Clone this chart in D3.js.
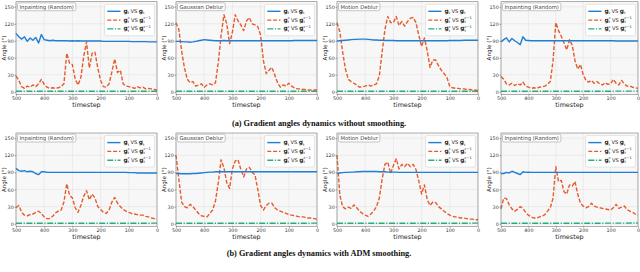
<!DOCTYPE html>
<html>
<head>
<meta charset="utf-8">
<script src="https://cdn.jsdelivr.net/npm/d3@7"></script>
<style>
  body { margin: 0; background: #fff; }
  svg { display: block; }
</style>
</head>
<body>
<div id="fig"></div>
<script>
// x values shared by the blue and orange series
const timesteps = [500, 490, 480, 470, 460, 450, 440, 430, 420, 410,
                   400, 390, 380, 370, 360, 350, 340, 330, 320, 310,
                   300, 290, 280, 270, 260, 250, 240, 230, 220, 210,
                   200, 190, 180, 170, 160, 150, 140, 130, 120, 110,
                   100, 90, 80, 70, 60, 50, 40, 30, 20, 10, 0];
const greenSteps = [500, 400, 300, 200, 100, 0];

const xTicks = [500, 400, 300, 200, 100, 0];
const yTicks = [0, 30, 60, 90, 120, 150];
const panelTitles = ["Inpainting (Random)", "Gaussian Deblur", "Motion Deblur", "Inpainting (Random)"];
const captions = ["(a) Gradient angles dynamics without smoothing.",
                  "(b) Gradient angles dynamics with ADM smoothing."];
const footText = "Figure 3: Angular relationships of gradients during the reverse process across different tasks, illustrating the gradient dynamics of each step";

// row (a): without smoothing
const blueA1 = [103,97,93,97,89,95,91,96,86,101, 92,91,90,91,90,90,90,90,90,89.5, 90,89.5,90,89.5,89.5,89.5,89.5,89.5,89.5,89.5, 89.5,89,89,89,89,89,89,89,89,89, 89,88.5,88.5,88.5,88.5,88.5,88.5,88,88,88, 88];
const orangeA1 = [28,20,9,6,10,8,12,9,14,22, 13,8,6,7,6,7,9,14,68,50, 48,22,12,25,62,88,42,68,70,42, 20,9,8,14,35,58,34,38,14,10, 9,8,6,9,7,8,5,6,5,4, 3];
const greenA1 = [1, 0.8, 0.8, 0.8, 0.9, 1];

const blueA2 = [89,89,88.5,88,88,87.5,88,89,90,91, 92,91.5,91,90.5,90,90,90,90.5,90,90, 90,90,90,90,90,90,90,90,90,90, 90,90,90,90,90,90,90,90,90,90, 90,90,90.5,90.5,90.5,90.5,90.5,90.5,90.5,90.5, 90.5];
const orangeA2 = [122,110,72,42,22,16,18,10,12,14, 8,12,14,12,16,52,100,136,120,85, 105,136,125,118,108,125,131,120,118,115, 100,55,32,38,43,30,16,8,12,10, 15,10,7,5,5,4,4,3,3,3, 3];
const greenA2 = [0.8, 0.8, 0.8, 0.8, 0.9, 1];

const blueA3 = [89.5,90,90.5,91,91.5,92,92.5,92.5,93,93, 93,92.5,92,91.5,91.5,91,91,90.5,90.5,90.5, 90.5,90,90,90,90,90,90,90,90,90, 90,90,90,90,90,90,90,90,90,90, 90.5,90.5,90.5,90.5,90.5,91,91,91,91,91, 91];
const orangeA3 = [122,106,70,40,22,18,15,12,8,9, 10,12,10,12,14,28,70,110,133,122, 122,133,117,124,116,124,130,131,122,100, 80,95,72,43,56,56,46,38,32,25, 9,7,6,6,5,5,4,4,3,3, 2];
const greenA3 = [0.8, 0.8, 0.8, 0.8, 0.9, 1];

const blueA4 = [88,92,95,88,94,90,87,83,97,91, 90.5,90,90,90,90,90,90,90,90,90, 90,90,90,90,90,90,90,90,90,90, 90,90,90,90,90,90,90,90,90,90, 90,90,89.5,89.5,89.5,89.5,89.5,89.5,89.5,89.5, 89.5];
const orangeA4 = [27,22,14,12,15,11,14,12,17,10, 8,6,7,6,8,9,10,13,18,55, 122,108,98,86,74,92,82,55,40,48, 30,20,17,20,15,18,14,12,16,13, 14,22,15,12,20,14,10,10,8,7, 6];
const greenA4 = [0.8, 0.8, 0.8, 0.9, 1, 1.2];

// row (b): with ADM smoothing
const blueB1 = [97,93,92,93,91,92,91,88,86,91, 91,90,90,90,90,90,90,90,90,90, 90,90,90,90,90,90,90,90,90,90, 90,90,90,90,90,90,90,90,90,90, 89.5,89.5,89.5,89,89,89,89,89,89,89, 89];
const orangeB1 = [28,32,20,15,14,16,17,20,22,18, 12,9,9,13,19,22,24,38,70,50, 45,28,20,32,48,58,42,52,45,30, 25,20,18,24,38,46,36,30,25,22, 20,18,17,16,15,15,13,12,10,9, 8];
const greenB1 = [0.8, 0.8, 0.8, 0.8, 0.9, 1];

const blueB2 = [88,88,87.5,87.5,87.5,87.5,88,88,88.5,89, 89.5,90,90.5,90.5,91,91,91,91,91,91, 91,91,91,91,91,91,91,91,91,91, 91,91,91,91,91,91,91,91,91,91, 91,91,91,91,91,91,91,91,91,91, 91];
const orangeB2 = [120,78,38,30,28,34,30,24,18,14, 13,12,18,24,40,72,112,98,72,62, 96,110,112,95,82,96,99,90,86,60, 32,24,32,36,36,28,24,22,20,18, 16,15,14,13,12,12,11,10,10,9, 8];
const greenB2 = [0.8, 0.8, 0.8, 0.8, 0.9, 1];

const blueB3 = [88,89,89.5,90,90,90.5,90.5,91,91,91.5, 91.5,91.5,91.5,91.5,91.5,91,91,91,90.5,90.5, 90.5,90.5,90,90,90,90,90,90,90,90, 90,90,90,90,90,90,90,90,90,90, 90,90,90,90,90,90,90,90,90,90, 90];
const orangeB3 = [120,50,30,26,29,27,33,28,22,18, 15,13,17,22,30,45,78,104,108,88, 102,114,96,104,100,106,100,104,95,75, 52,68,42,32,38,37,30,26,22,18, 15,13,12,11,10,10,9,8,8,7, 7];
const greenB3 = [0.8, 0.8, 0.8, 0.8, 0.9, 1];

const blueB4 = [88,88,90,89,92,90,88,86,91,90, 90.5,90,90,90,90,90,90,90,90,90, 90,90,90,90,90,90,90,90,90,90, 90,90,90,90,90,90,90,90,90,90, 90,90,90,90,90,90,90,90,90,90, 90];
const orangeB4 = [26,45,44,33,26,22,25,30,27,20, 15,12,10,10,12,13,16,22,28,45, 100,74,76,56,52,68,66,74,52,36, 31,28,30,36,31,29,28,27,26,25, 24,28,34,27,29,31,25,22,20,17, 15];
const greenB4 = [0.8, 0.8, 0.8, 0.9, 1, 1.2];

const W = 640, H = 272;
const BLUE = "#1f7fd6", ORANGE = "#e55b2b", GREEN = "#26ad7e";
const SANS = "DejaVu Sans, sans-serif";

const svg = d3.select("#fig").append("svg")
    .attr("width", W)
    .attr("height", H)
    .style("font-family", SANS);

// panel frames (left, right) and (top, bottom)
const cols = [[16, 157], [176, 317], [337, 478], [501, 638]];
const rows = [[1.7, 94.3], [133, 226.3]];

const panels = [
    { r: 0, c: 0, blue: blueA1, orange: orangeA1, green: greenA1 },
    { r: 0, c: 1, blue: blueA2, orange: orangeA2, green: greenA2 },
    { r: 0, c: 2, blue: blueA3, orange: orangeA3, green: greenA3 },
    { r: 0, c: 3, blue: blueA4, orange: orangeA4, green: greenA4 },
    { r: 1, c: 0, blue: blueB1, orange: orangeB1, green: greenB1 },
    { r: 1, c: 1, blue: blueB2, orange: orangeB2, green: greenB2 },
    { r: 1, c: 2, blue: blueB3, orange: orangeB3, green: greenB3 },
    { r: 1, c: 3, blue: blueB4, orange: orangeB4, green: greenB4 }
];

// writes bold g with sub/superscripts piece by piece
function mathLabel(g, x, y, parts) {
    let cx = x;
    parts.forEach(function (p) {
        let base = g.append("text")
            .attr("x", cx).attr("y", y)
            .attr("font-size", p.bold ? 5.8 : 5.2)
            .attr("font-weight", p.bold ? "bold" : "normal")
            .attr("fill", "#222")
            .text(p.t);
        let w = base.node().getComputedTextLength();
        let extra = 0;
        if (p.sub) {
            let s = g.append("text").attr("x", cx + w + 0.2).attr("y", y + 1.4)
                .attr("font-size", 3.5).attr("fill", "#222").text(p.sub);
            extra = Math.max(extra, s.node().getComputedTextLength());
        }
        if (p.sup) {
            let s = g.append("text").attr("x", cx + w + 0.2).attr("y", y - 2.7)
                .attr("font-size", 3.5).attr("fill", "#222").text(p.sup);
            extra = Math.max(extra, s.node().getComputedTextLength());
        }
        cx += w + extra + 1.4;
    });
}

const legendItems = [
    { color: BLUE, dash: null, parts: [{ t: "g", bold: 1, sub: "t" }, { t: "VS" }, { t: "g", bold: 1, sub: "t" }] },
    { color: ORANGE, dash: "4,1.8", parts: [{ t: "g", bold: 1, sub: "t", sup: "c" }, { t: "VS" }, { t: "g", bold: 1, sub: "t", sup: "c\u22121" }] },
    { color: GREEN, dash: "6,1.6,1.2,1.6", parts: [{ t: "g", bold: 1, sub: "t", sup: "c" }, { t: "VS" }, { t: "g", bold: 1, sub: "t", sup: "c\u22121" }] }
];

panels.forEach(function (p) {
    let [x0, x1] = cols[p.c];
    let [y0, y1] = rows[p.r];

    let x = d3.scaleLinear().domain([500, 0]).range([x0, x1]);
    let y = d3.scaleLinear().domain([-4.5, 159]).range([y1, y0]);

    let g = svg.append("g");

    g.append("rect")
        .attr("x", x0).attr("y", y0)
        .attr("width", x1 - x0).attr("height", y1 - y0)
        .attr("fill", "#f7f7f7");

    // grid
    g.append("g").selectAll("line").data(xTicks).join("line")
        .attr("x1", d => x(d)).attr("x2", d => x(d))
        .attr("y1", y0).attr("y2", y1)
        .attr("stroke", "#dedede").attr("stroke-width", 0.5);
    g.append("g").selectAll("line").data(yTicks).join("line")
        .attr("x1", x0).attr("x2", x1)
        .attr("y1", d => y(d)).attr("y2", d => y(d))
        .attr("stroke", "#dedede").attr("stroke-width", 0.5);

    let line = d3.line().x(d => x(d[0])).y(d => y(d[1]));

    g.append("path")
        .datum(d3.zip(greenSteps, p.green))
        .attr("d", line)
        .attr("fill", "none").attr("stroke", GREEN)
        .attr("stroke-width", 1.4).attr("stroke-dasharray", "6,1.6,1.2,1.6");

    g.append("path")
        .datum(d3.zip(timesteps, p.orange))
        .attr("d", line)
        .attr("fill", "none").attr("stroke", ORANGE)
        .attr("stroke-width", 1.4).attr("stroke-dasharray", "4,1.8")
        .attr("stroke-linejoin", "round");

    g.append("path")
        .datum(d3.zip(timesteps, p.blue))
        .attr("d", line)
        .attr("fill", "none").attr("stroke", BLUE)
        .attr("stroke-width", 1.4)
        .attr("stroke-linejoin", "round");

    // frame
    g.append("rect")
        .attr("x", x0).attr("y", y0)
        .attr("width", x1 - x0).attr("height", y1 - y0)
        .attr("fill", "none").attr("stroke", "#7a7a7a").attr("stroke-width", 0.6);

    // axes
    let xAxis = d3.axisBottom(x).tickValues(xTicks).tickSize(1.5).tickPadding(0.8);
    let yAxis = d3.axisLeft(y).tickValues(yTicks).tickSize(1.5).tickPadding(0.8);

    let gx = g.append("g").attr("transform", `translate(0,${y1})`).call(xAxis);
    let gy = g.append("g").attr("transform", `translate(${x0},0)`).call(yAxis);
    [gx, gy].forEach(function (a) {
        a.select(".domain").remove();
        a.selectAll("line").attr("stroke", "#555").attr("stroke-width", 0.5);
        a.selectAll("text").attr("font-size", 4.8).attr("font-family", SANS).attr("fill", "#333");
    });

    g.append("text")
        .attr("x", (x0 + x1) / 2).attr("y", y1 + 12.2)
        .attr("text-anchor", "middle")
        .attr("font-size", 6.4).attr("fill", "#222")
        .text("timestep");

    g.append("text")
        .attr("transform", `translate(${x0 - 10.5},${(y0 + y1) / 2}) rotate(-90)`)
        .attr("text-anchor", "middle")
        .attr("font-size", 5.6).attr("fill", "#222")
        .text("Angle (\u00b0)");

    // task title box
    let tb = g.append("g");
    let tt = tb.append("text")
        .attr("x", x0 + 3.5).attr("y", y0 + 6.8)
        .attr("font-size", 5.3).attr("fill", "#444")
        .text(panelTitles[p.c]);
    let tw = tt.node().getComputedTextLength();
    tb.insert("rect", "text")
        .attr("x", x0 + 1.5).attr("y", y0 + 1.2)
        .attr("width", tw + 4).attr("height", 7.8)
        .attr("rx", 1.5)
        .attr("fill", "#fff").attr("stroke", "#a0a0a0").attr("stroke-width", 0.6);

    // legend
    let lg = g.append("g");
    let lx = x1 - 52.5, ly = y0 + 2.6;
    lg.append("rect")
        .attr("x", lx).attr("y", ly)
        .attr("width", 50).attr("height", 31.5)
        .attr("rx", 1.5)
        .attr("fill", "#fff").attr("fill-opacity", 0.85)
        .attr("stroke", "#cfcfcf").attr("stroke-width", 0.5);
    legendItems.forEach(function (it, i) {
        let yy = ly + 8.5 + i * 8.8;
        lg.append("line")
            .attr("x1", lx + 2.8).attr("x2", lx + 16)
            .attr("y1", yy - 1.5).attr("y2", yy - 1.5)
            .attr("stroke", it.color).attr("stroke-width", 1.4)
            .attr("stroke-dasharray", it.dash);
        mathLabel(lg, lx + 19, yy, it.parts);
    });
});

// captions
svg.append("text")
    .attr("x", 319).attr("y", 126)
    .attr("text-anchor", "middle")
    .attr("font-family", "Liberation Serif, serif").attr("font-weight", "bold")
    .attr("font-size", 8.3).attr("fill", "#111")
    .text(captions[0]);

svg.append("text")
    .attr("x", 319).attr("y", 256)
    .attr("text-anchor", "middle")
    .attr("font-family", "Liberation Serif, serif").attr("font-weight", "bold")
    .attr("font-size", 8.3).attr("fill", "#111")
    .text(captions[1]);

svg.append("text")
    .attr("x", -6).attr("y", 279)
    .attr("font-family", "Liberation Serif, serif").attr("font-weight", "bold")
    .attr("font-size", 10.5).attr("fill", "#111")
    .text(footText);
</script>
</body>
</html>
